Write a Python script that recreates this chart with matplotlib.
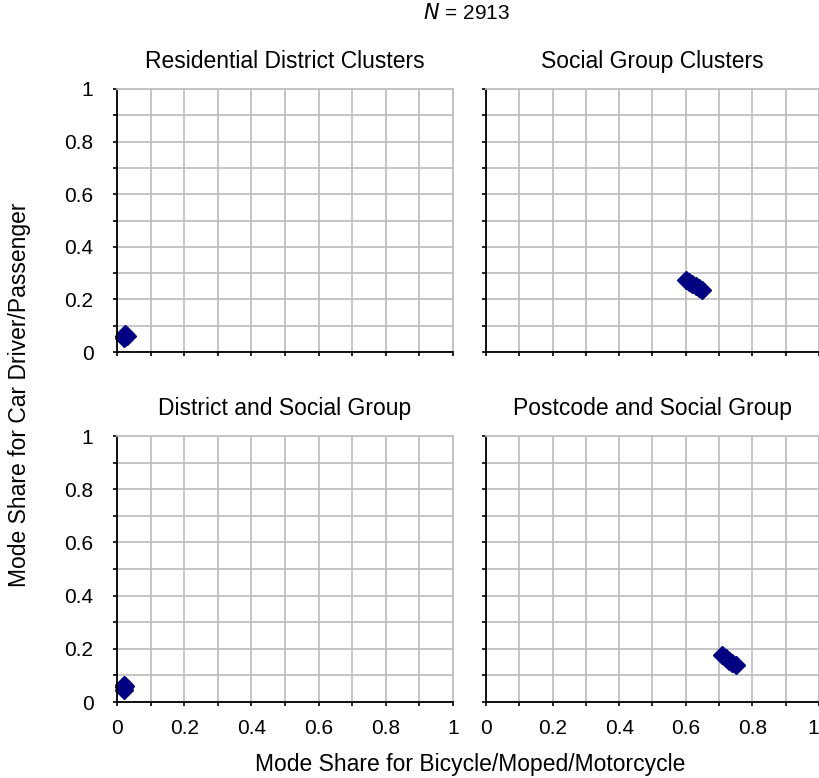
import numpy as np
import matplotlib
matplotlib.use("Agg")
import matplotlib.pyplot as plt

plt.rcParams['font.family'] = ['Liberation Sans', 'DejaVu Sans']

# panel titles and point data (mode share bicycle/moped/motorcycle vs car)
titles = ["Residential District Clusters", "Social Group Clusters",
          "District and Social Group", "Postcode and Social Group"]
x_resid = [0.020, 0.025, 0.030, 0.022]
y_resid = [0.060, 0.068, 0.062, 0.055]
x_social = [0.600, 0.610, 0.620, 0.630, 0.640, 0.650]
y_social = [0.275, 0.268, 0.258, 0.250, 0.242, 0.235]
x_district = [0.020, 0.022, 0.020, 0.024]
y_district = [0.045, 0.055, 0.065, 0.060]
x_postcode = [0.710, 0.720, 0.730, 0.740, 0.750]
y_postcode = [0.178, 0.165, 0.155, 0.145, 0.138]
tick_vals = np.round(np.arange(0, 1.01, 0.1), 1)
tick_labels = ["0", "", "0.2", "", "0.4", "", "0.6", "", "0.8", "", "1"]

panels = [(x_resid, y_resid), (x_social, y_social),
          (x_district, y_district), (x_postcode, y_postcode)]

fig = plt.figure(figsize=(8.2, 7.78), dpi=100)
W, H = 820.0, 778.0
# axes edges in pixels
col_x = [(117, 453), (486, 819)]
row_y = [(89, 352), (436, 702)]

grid_col = "#c0c0c0"
fs = 15
for i, (xs, ys) in enumerate(panels):
    r, c = divmod(i, 2)
    x0, x1 = col_x[c]
    y0, y1 = row_y[r]
    ax = fig.add_axes([x0 / W, 1 - y1 / H, (x1 - x0) / W, (y1 - y0) / H])
    ax.set_xlim(0, 1)
    ax.set_ylim(0, 1)
    ax.set_xticks(tick_vals)
    ax.set_yticks(tick_vals)
    ax.set_xticklabels(tick_labels if r == 1 else [""] * len(tick_vals))
    ax.set_yticklabels(tick_labels if c == 0 else [""] * len(tick_vals))
    ax.grid(True, color=grid_col, linewidth=1.3)
    ax.set_axisbelow(True)
    for s in ["top", "right"]:
        ax.spines[s].set_color(grid_col)
        ax.spines[s].set_linewidth(1.3)
    for s in ["left", "bottom"]:
        ax.spines[s].set_color("black")
        ax.spines[s].set_linewidth(1.3)
    ax.tick_params(direction="out", length=3, width=1.2, labelsize=fs,
                   colors="black")
    ax.tick_params(axis="y", pad=14)
    ax.tick_params(axis="x", pad=9)
    if i == 3:
        # keep the last "1" inside the figure edge
        ax.get_xticklabels()[-1].set_horizontalalignment("right")
    ax.plot(xs, ys, linestyle="none", marker="D", markersize=9,
            color="#000080", clip_on=False)
    ax.set_title(titles[i], fontsize=fs + 1.5, pad=15)

fig.text(466 / W, 1 - 13 / H, r"$\it{N}$ = 2913", ha="center", va="center",
         fontsize=fs)
fig.text(20 / W, 1 - 395 / H, "Mode Share for Car Driver/Passenger",
         rotation=90, ha="center", va="center", fontsize=fs + 1.5)
fig.text(470 / W, 1 - 764 / H, "Mode Share for Bicycle/Moped/Motorcycle",
         ha="center", va="center", fontsize=fs + 1.5)

fig.savefig("out.png", dpi=100)
